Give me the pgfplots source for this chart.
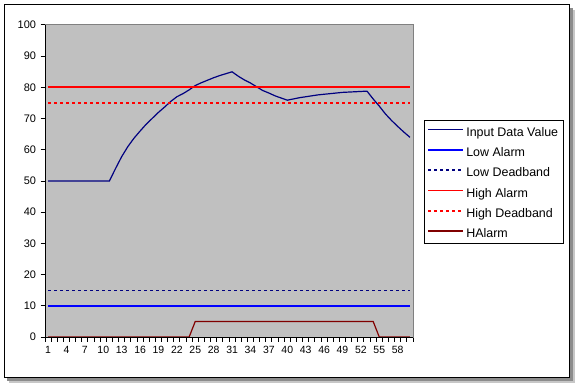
\documentclass[border=0pt]{standalone}
\usepackage{fontspec}
\setmainfont{Liberation Sans}
\usepackage{pgfplots}
\usepackage{pgfplotstable}
\pgfplotsset{compat=1.18}
\definecolor{silverbg}{RGB}{192,192,192}
\definecolor{grayborder}{RGB}{128,128,128}
\definecolor{serInput}{RGB}{0,0,128}
\definecolor{serLowAlarm}{RGB}{0,0,255}
\definecolor{serLowDead}{RGB}{0,0,128}
\definecolor{serHighAlarm}{RGB}{255,0,0}
\definecolor{serHighDead}{RGB}{255,0,0}
\definecolor{serHAlarm}{RGB}{128,0,0}

% x, Input Data Value, Low Alarm, Low Deadband, High Alarm, High Deadband, HAlarm
\pgfplotstableread{
x inp la ld ha hd hal
1 50 10 15 80 75 0
2 50 10 15 80 75 0
3 50 10 15 80 75 0
4 50 10 15 80 75 0
5 50 10 15 80 75 0
6 50 10 15 80 75 0
7 50 10 15 80 75 0
8 50 10 15 80 75 0
9 50 10 15 80 75 0
10 50 10 15 80 75 0
11 50 10 15 80 75 0
12 54 10 15 80 75 0
13 57.8 10 15 80 75 0
14 61 10 15 80 75 0
15 63.7 10 15 80 75 0
16 66 10 15 80 75 0
17 68.2 10 15 80 75 0
18 70.1 10 15 80 75 0
19 72 10 15 80 75 0
20 73.7 10 15 80 75 0
21 75.5 10 15 80 75 0
22 77 10 15 80 75 0
23 78 10 15 80 75 0
24 79.2 10 15 80 75 0
25 80.6 10 15 80 75 5
26 81.5 10 15 80 75 5
27 82.3 10 15 80 75 5
28 83.1 10 15 80 75 5
29 83.8 10 15 80 75 5
30 84.4 10 15 80 75 5
31 85 10 15 80 75 5
32 83.6 10 15 80 75 5
33 82.4 10 15 80 75 5
34 81.4 10 15 80 75 5
35 80.2 10 15 80 75 5
36 79 10 15 80 75 5
37 78.2 10 15 80 75 5
38 77.3 10 15 80 75 5
39 76.6 10 15 80 75 5
40 75.9 10 15 80 75 5
41 76.3 10 15 80 75 5
42 76.7 10 15 80 75 5
43 77 10 15 80 75 5
44 77.3 10 15 80 75 5
45 77.6 10 15 80 75 5
46 77.8 10 15 80 75 5
47 78 10 15 80 75 5
48 78.2 10 15 80 75 5
49 78.4 10 15 80 75 5
50 78.5 10 15 80 75 5
51 78.6 10 15 80 75 5
52 78.7 10 15 80 75 5
53 78.8 10 15 80 75 5
54 76.3 10 15 80 75 5
55 74 10 15 80 75 0
56 71.5 10 15 80 75 0
57 69.4 10 15 80 75 0
58 67.5 10 15 80 75 0
59 65.7 10 15 80 75 0
60 64 10 15 80 75 0
}\chartdata

\begin{document}
\begin{tikzpicture}[x=1bp,y=1bp]
\useasboundingbox (0,0) rectangle (580,388);
\fill[white] (0,0) rectangle (580,388);
\fill[black!22] (9,5) rectangle (575,378);
\fill[black!45] (7,7) rectangle (573,380);
\fill[white, draw=black, line width=1bp] (4,11) rectangle (569,383);
\begin{axis}[
  at={(45bp,51bp)}, anchor=south west,
  width=368bp, height=312bp, scale only axis,
  xmin=0.5, xmax=60.5, ymin=0, ymax=100,
  axis background/.style={fill=silverbg},
  axis line style={draw=grayborder, line width=1bp},
  tick align=outside, tick pos=left,
  major tick length=4.5bp,
  tick style={black, line width=1bp},
  xtick={0.5,1.5,...,60.5}, xticklabels={},
  extra x ticks={1,4,7,10,13,16,19,22,25,28,31,34,37,40,43,46,49,52,55,58},
  extra x tick labels={1,4,7,10,13,16,19,22,25,28,31,34,37,40,43,46,49,52,55,58},
  extra x tick style={major tick length=0pt},
  xticklabel style={font=\fontsize{10.5}{12}\selectfont, yshift=-5.5bp},
  ytick={0,10,...,100},
  yticklabel style={font=\fontsize{11}{13}\selectfont, xshift=-1bp},
  /pgf/number format/assume math mode=true,
  legend cell align=left,
  legend image code/.code={\path (0bp,-3bp) (35bp,9bp); \draw[#1, line width=1.5bp] (0bp,3.5bp) -- (35bp,3.5bp);},
  legend style={at={(1.0299,0.6955)}, anchor=north west, draw=black, line width=1bp, fill=white,
    font=\fontsize{12.5}{15}\selectfont, inner xsep=3bp, inner ysep=3bp, row sep=4.6bp,
    nodes={inner xsep=2bp, inner ysep=0bp, text height=9bp, text depth=3bp}},
]
\addplot[color=serInput, line width=1.2bp] table[x=x,y=inp] {\chartdata};
\addlegendentry{Input Data Value}
\addplot[color=serLowAlarm, line width=1.5bp] table[x=x,y=la] {\chartdata};
\addlegendentry{Low Alarm}
\addplot[color=serLowDead, line width=1.3bp, dash pattern=on 2.5bp off 3.5bp] table[x=x,y=ld] {\chartdata};
\addlegendentry{Low Deadband}
\addplot[color=serHighAlarm, line width=1.8bp] table[x=x,y=ha] {\chartdata};
\addlegendentry{High Alarm}
\addplot[color=serHighDead, line width=1.3bp, dash pattern=on 2.5bp off 3.5bp] table[x=x,y=hd] {\chartdata};
\addlegendentry{High Deadband}
\addplot[color=serHAlarm, line width=1.2bp] table[x=x,y=hal] {\chartdata};
\addlegendentry{HAlarm}
\draw[black, line width=1bp] (rel axis cs:0,1) -- (rel axis cs:0,0) -- (rel axis cs:1,0);
\end{axis}
\end{tikzpicture}
\end{document}
